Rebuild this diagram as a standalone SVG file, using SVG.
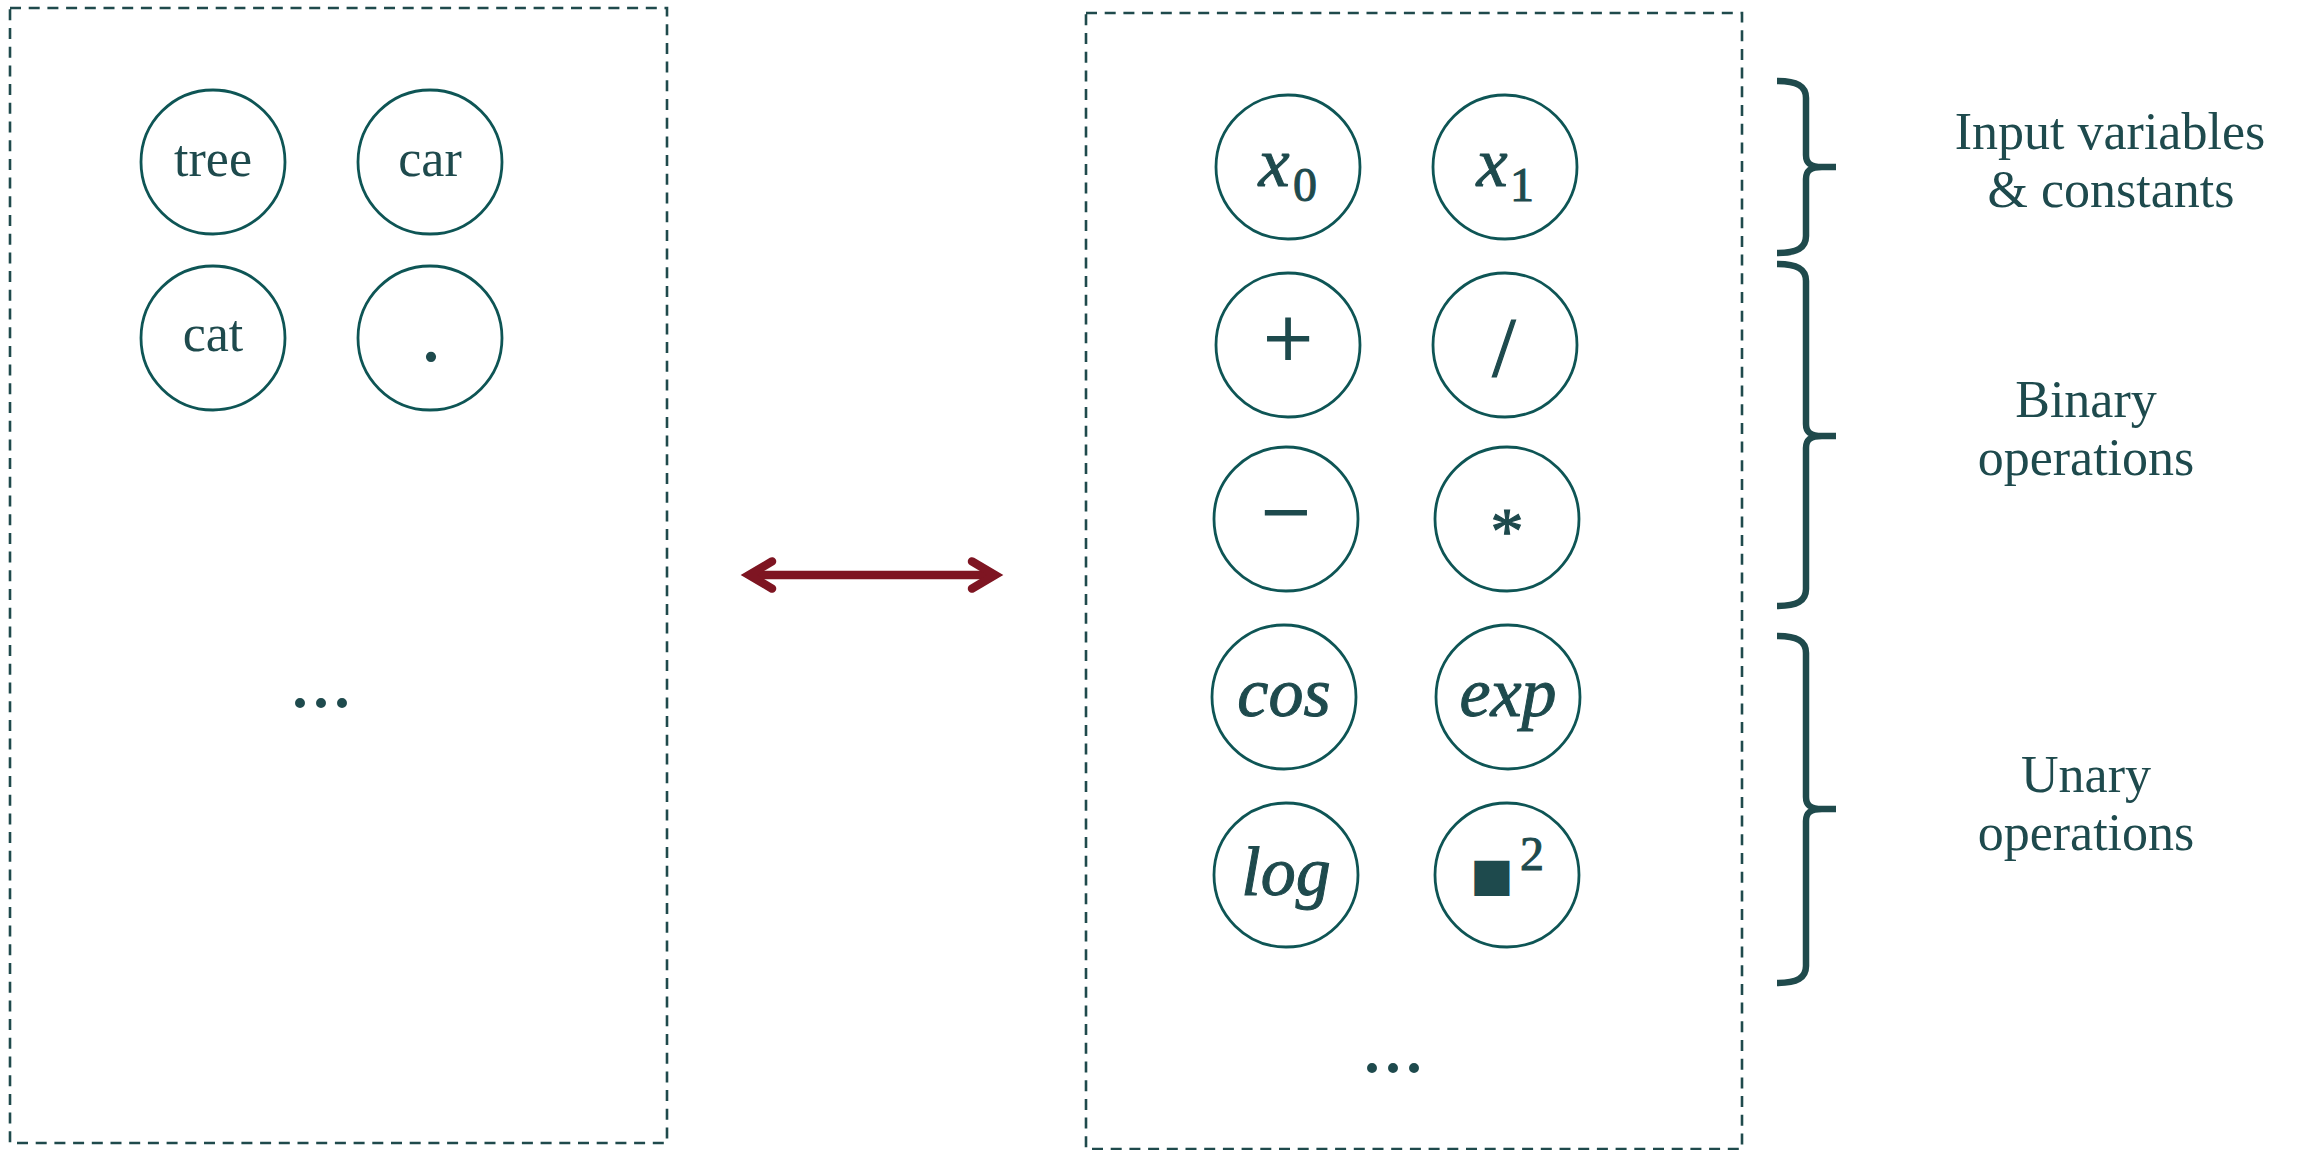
<svg xmlns="http://www.w3.org/2000/svg" width="2300" height="1150" viewBox="0 0 2300 1150">
<defs>
<style>
.box{fill:none;stroke:#1F4A4C;stroke-width:2.6;stroke-dasharray:11 7.7}
.node{fill:#fff;stroke:#0E5555;stroke-width:2.8}
.word{font-family:"Liberation Serif",serif;font-size:52px;fill:#1E4A4D;text-anchor:middle}
.math{font-family:"Liberation Serif",serif;font-style:italic;font-size:70px;fill:#1E4A4D;stroke:#1E4A4D;stroke-width:1;text-anchor:middle}
.num{font-family:"Liberation Serif",serif;font-size:48px;fill:#1E4A4D;stroke:#1E4A4D;stroke-width:1}
.op{font-family:"Liberation Serif",serif;fill:#1E4A4D;stroke:#1E4A4D;stroke-width:1.2;text-anchor:middle}
.label{font-family:"Liberation Serif",serif;font-size:52px;fill:#1E4A4D;text-anchor:middle}
.brace{fill:none;stroke:#1F4A4C;stroke-width:6.5;stroke-linecap:butt}
.conn{fill:none;stroke:#7E1522;stroke-width:8.5}
</style>
<marker id="head" markerUnits="userSpaceOnUse" markerWidth="60" markerHeight="60" viewBox="-40 -30 60 60" refX="0" refY="0" orient="auto-start-reverse" overflow="visible">
<path d="M-23,-13.6 L0,0 L-23,13.6" fill="none" stroke="#7E1522" stroke-width="8.5" stroke-linecap="round" stroke-linejoin="miter"/>
</marker>
</defs>
<rect width="2300" height="1150" fill="#fff"/>

<g id="vocab-box">
<rect class="box" x="10" y="8" width="657" height="1135"/>
</g>
<g id="node-tree"><circle class="node" cx="213" cy="162" r="72"/><text class="word" x="213" y="176">tree</text></g>
<g id="node-car"><circle class="node" cx="430" cy="162" r="72"/><text class="word" x="430" y="176">car</text></g>
<g id="node-cat"><circle class="node" cx="213" cy="338" r="72"/><text class="word" x="213" y="351">cat</text></g>
<g id="node-period"><circle class="node" cx="430" cy="338" r="72"/><text class="word" x="431" y="361" style="font-size:86px">.</text></g>
<g id="vocab-more"><text class="word" x="321" y="707" style="font-size:84px">...</text></g>

<g id="symbol-box">
<rect class="box" x="1086" y="13" width="656" height="1136"/>
</g>
<g id="node-x0"><circle class="node" cx="1288" cy="167" r="72"/><text x="1274" y="186" class="math">x</text><text x="1293" y="201" class="num">0</text></g>
<g id="node-x1"><circle class="node" cx="1505" cy="167" r="72"/><text x="1492" y="186" class="math">x</text><text x="1510" y="201" class="num">1</text></g>
<g id="node-plus"><circle class="node" cx="1288" cy="345" r="72"/><text class="op" x="1288" y="368" style="font-size:88px">+</text></g>
<g id="node-div"><circle class="node" cx="1505" cy="345" r="72"/><text class="op" x="1504" y="376" style="font-size:84px">/</text></g>
<g id="node-minus"><circle class="node" cx="1286" cy="519" r="72"/><text class="op" x="1286" y="542" style="font-size:88px">−</text></g>
<g id="node-mul"><circle class="node" cx="1507" cy="519" r="72"/><text class="op" x="1507" y="553" style="font-size:66px">*</text></g>
<g id="node-cos"><circle class="node" cx="1284" cy="697" r="72"/><text class="math" x="1284" y="716">cos</text></g>
<g id="node-exp"><circle class="node" cx="1508" cy="697" r="72"/><text class="math" x="1508" y="716">exp</text></g>
<g id="node-log"><circle class="node" cx="1286" cy="875" r="72"/><text class="math" x="1286" y="895">log</text></g>
<g id="node-square"><circle class="node" cx="1507" cy="875" r="72"/><text class="op" x="1492" y="890" style="font-family:'DejaVu Sans',sans-serif;font-size:46px;stroke-width:0">■</text><text x="1520" y="870" class="num">2</text></g>
<g id="symbol-more"><text class="word" x="1393" y="1072" style="font-size:84px">...</text></g>

<g id="brace-inputs"><path class="brace" d="M1777,81 C1797,81 1806,86 1806,98 L1806,155 C1806,163 1810,167 1822,167 L1836,167 M1822,167 C1810,167 1806,171 1806,179 L1806,236 C1806,248 1797,253 1777,253"/>
<text class="label" x="2110" y="149">Input variables</text><text class="label" x="2111" y="207">&amp; constants</text></g>
<g id="brace-binary"><path class="brace" d="M1777,264 C1797,264 1806,269 1806,281 L1806,424 C1806,432 1810,436 1822,436 L1836,436 M1822,436 C1810,436 1806,440 1806,448 L1806,589 C1806,601 1797,606 1777,606"/>
<text class="label" x="2086" y="417">Binary</text><text class="label" x="2086" y="475">operations</text></g>
<g id="brace-unary"><path class="brace" d="M1777,636 C1797,636 1806,641 1806,653 L1806,797 C1806,805 1810,809 1822,809 L1836,809 M1822,809 C1810,809 1806,813 1806,821 L1806,966 C1806,978 1797,983 1777,983"/>
<text class="label" x="2086" y="792">Unary</text><text class="label" x="2086" y="850">operations</text></g>

<g id="connectors">
<line class="conn" x1="749" y1="575" x2="995" y2="575" marker-start="url(#head)" marker-end="url(#head)"/>
</g>
</svg>
